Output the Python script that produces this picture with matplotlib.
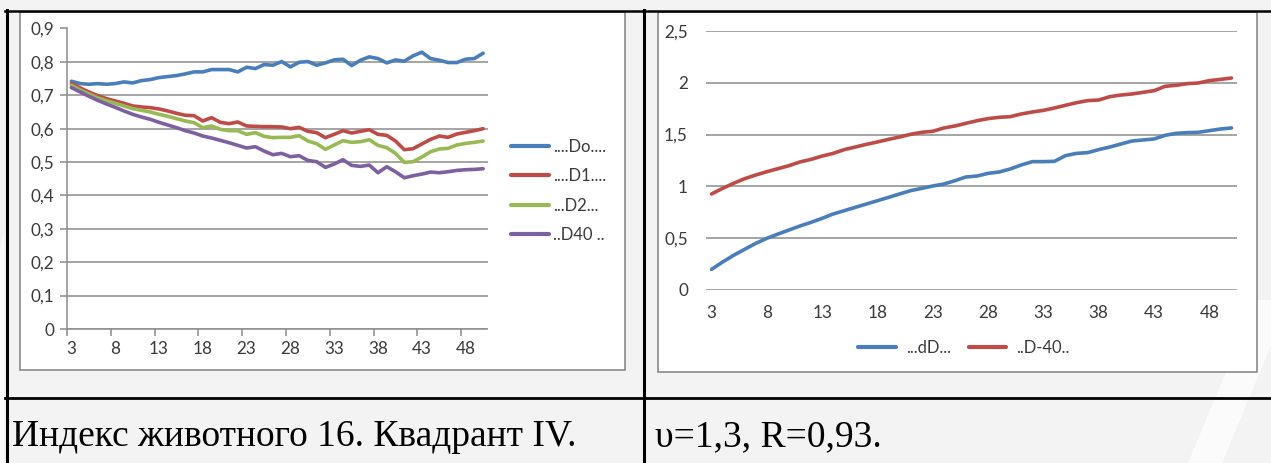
import matplotlib
matplotlib.use('Agg')
import matplotlib.pyplot as plt
from matplotlib.lines import Line2D
from matplotlib.patches import Rectangle, Polygon

W, H = 1271, 463

# ---------------- data ----------------
categories = list(range(3, 51))
xtick_labels = ['3', '8', '13', '18', '23', '28', '33', '38', '43', '48']
left_yticks = [0, 0.1, 0.2, 0.3, 0.4, 0.5, 0.6, 0.7, 0.8, 0.9]
left_ylabels = ['0', '0,1', '0,2', '0,3', '0,4', '0,5', '0,6', '0,7', '0,8', '0,9']
right_yticks = [0, 0.5, 1, 1.5, 2, 2.5]
right_ylabels = ['0', '0,5', '1', '1,5', '2', '2,5']

left_names = ['....Do....', '....D1....', '...D2...', '..D40 ..']
right_names = ['...dD...', '..D-40..']

do_vals = [0.742, 0.735, 0.733, 0.735, 0.733, 0.735, 0.740, 0.737, 0.744, 0.747,
           0.753, 0.756, 0.759, 0.764, 0.770, 0.770, 0.777, 0.777, 0.777, 0.770,
           0.784, 0.780, 0.792, 0.790, 0.801, 0.785, 0.799, 0.801, 0.790, 0.797,
           0.806, 0.808, 0.789, 0.805, 0.815, 0.810, 0.797, 0.806, 0.802, 0.818,
           0.829, 0.810, 0.805, 0.798, 0.798, 0.808, 0.810, 0.826]
d1_vals = [0.735, 0.722, 0.710, 0.699, 0.690, 0.683, 0.676, 0.668, 0.665, 0.663,
           0.659, 0.653, 0.646, 0.640, 0.639, 0.623, 0.633, 0.619, 0.615, 0.620,
           0.608, 0.607, 0.606, 0.606, 0.605, 0.600, 0.604, 0.592, 0.588, 0.573,
           0.583, 0.594, 0.587, 0.592, 0.597, 0.583, 0.580, 0.563, 0.537, 0.540,
           0.554, 0.568, 0.578, 0.574, 0.584, 0.589, 0.594, 0.600]
d2_vals = [0.730, 0.716, 0.704, 0.692, 0.684, 0.676, 0.668, 0.660, 0.655, 0.650,
           0.643, 0.637, 0.630, 0.623, 0.618, 0.603, 0.608, 0.598, 0.594, 0.594,
           0.583, 0.588, 0.577, 0.573, 0.574, 0.574, 0.579, 0.563, 0.555, 0.538,
           0.551, 0.564, 0.559, 0.561, 0.567, 0.550, 0.543, 0.526, 0.499, 0.501,
           0.515, 0.531, 0.539, 0.541, 0.551, 0.556, 0.559, 0.563]
d40_vals = [0.723, 0.710, 0.697, 0.685, 0.674, 0.664, 0.653, 0.643, 0.635, 0.628,
            0.619, 0.611, 0.603, 0.594, 0.587, 0.578, 0.572, 0.565, 0.558, 0.550,
            0.542, 0.546, 0.533, 0.522, 0.526, 0.516, 0.519, 0.505, 0.501, 0.484,
            0.494, 0.507, 0.490, 0.487, 0.491, 0.468, 0.486, 0.471, 0.453, 0.459,
            0.464, 0.470, 0.468, 0.471, 0.475, 0.477, 0.478, 0.480]

dd_vals = [0.199, 0.270, 0.335, 0.393, 0.450, 0.499, 0.540, 0.579, 0.618, 0.653,
           0.692, 0.734, 0.766, 0.798, 0.830, 0.862, 0.894, 0.927, 0.959, 0.981,
           1.004, 1.023, 1.055, 1.091, 1.100, 1.126, 1.139, 1.168, 1.207, 1.239,
           1.239, 1.242, 1.297, 1.319, 1.326, 1.355, 1.380, 1.409, 1.438, 1.448,
           1.458, 1.493, 1.512, 1.519, 1.522, 1.538, 1.554, 1.564]
d_40_vals = [0.927, 0.981, 1.030, 1.075, 1.110, 1.142, 1.171, 1.200, 1.236, 1.261,
             1.293, 1.319, 1.355, 1.380, 1.406, 1.429, 1.454, 1.477, 1.503, 1.522,
             1.532, 1.564, 1.583, 1.609, 1.634, 1.654, 1.667, 1.673, 1.699, 1.718,
             1.734, 1.757, 1.783, 1.808, 1.828, 1.834, 1.866, 1.882, 1.892, 1.908,
             1.924, 1.966, 1.976, 1.992, 1.998, 2.021, 2.033, 2.046]

caption_left = 'Индекс животного 16. Квадрант IV.'
caption_right = 'υ=1,3, R=0,93.'

# ---------------- styles ----------------
BLUE, RED, GREEN, PURPLE = '#4A7EBB', '#BE4B48', '#98B954', '#7D60A0'
GRID = '#8C8C8C'
TXT = '#3A3A3A'
CHART_FONT = ['Lato', 'DejaVu Sans']
FS = 12.3
LW = 2.6

fig = plt.figure(figsize=(W / 100, H / 100), dpi=100)
fig.patch.set_facecolor('#f3f3f3')


def fx(px):
    return px / W


def fy(py):
    return 1 - py / H


# faint watermark stripes (background decoration)
fig.add_artist(Polygon([(fx(1188), fy(463)), (fx(1222), fy(463)),
                        (fx(1290), fy(300)), (fx(1256), fy(300))],
                       closed=True, transform=fig.transFigure, facecolor='white',
                       edgecolor='none', alpha=0.7, zorder=-1))
fig.add_artist(Polygon([(fx(0), fy(463)), (fx(4), fy(463)),
                        (fx(4), fy(230)), (fx(0), fy(250))],
                       closed=True, transform=fig.transFigure, facecolor='white',
                       edgecolor='none', alpha=0.6, zorder=-1))

# chart frames (white boxes)
for (x0, y0, x1, y1) in [(20, 12, 625, 370), (658, 12, 1257, 372)]:
    fig.add_artist(Rectangle((fx(x0), fy(y1)), fx(x1) - fx(x0), fy(y0) - fy(y1),
                             transform=fig.transFigure, facecolor='white',
                             edgecolor='#8a8a8a', lw=1.2, zorder=0))


# table lines
def hline(y, x0, x1, lw):
    fig.add_artist(Line2D([fx(x0), fx(x1)], [fy(y), fy(y)], transform=fig.transFigure,
                          color='black', lw=lw, zorder=5))


def vline(x, y0, y1, lw):
    fig.add_artist(Line2D([fx(x), fx(x)], [fy(y0), fy(y1)], transform=fig.transFigure,
                          color='black', lw=lw, zorder=5))


hline(11, 5, W, 1.8)
hline(398, 5, W, 2.0)
vline(6.5, 10, H, 2.2)
vline(644, 10, H, 2.2)

# ---------------- left chart ----------------
ax1 = fig.add_axes([fx(67), fy(329), fx(487.5) - fx(67), fy(28.5) - fy(329)])
ax1.set_facecolor('none')
ax1.set_xlim(2.5, 50.5)
ax1.set_ylim(0, 0.9)
for vals, col, name in zip([do_vals, d1_vals, d2_vals, d40_vals],
                           [BLUE, RED, GREEN, PURPLE], left_names):
    ax1.plot(categories, vals, color=col, lw=LW, label=name,
             solid_joinstyle='round', solid_capstyle='round', zorder=3)
ax1.set_yticks(left_yticks)
ax1.set_yticklabels(left_ylabels)
ax1.set_xticks(categories[::5])
ax1.set_xticklabels(xtick_labels)
ax1.set_xticks([c - 0.5 for c in categories[::5]], minor=True)
ax1.tick_params(axis='x', which='major', length=0, pad=9, labelsize=FS, labelcolor=TXT)
ax1.tick_params(axis='x', which='minor', length=5, width=1.1, color=GRID, direction='out')
ax1.tick_params(axis='y', length=5, width=1.1, color=GRID, pad=4, labelsize=FS, labelcolor=TXT)
ax1.yaxis.grid(True, color=GRID, lw=1.1, zorder=1)
ax1.set_axisbelow(True)
for s in ['top', 'right']:
    ax1.spines[s].set_visible(False)
for s in ['left', 'bottom']:
    ax1.spines[s].set_color(GRID)
    ax1.spines[s].set_linewidth(1.1)
for lab in ax1.get_xticklabels() + ax1.get_yticklabels():
    lab.set_family(CHART_FONT)

leg1 = ax1.legend(loc='center left', bbox_to_anchor=(fx(511), fy(191)),
                  bbox_transform=fig.transFigure, frameon=False, borderpad=0,
                  borderaxespad=0, handlelength=2.25, handletextpad=0.25,
                  labelspacing=0.8, prop={'family': CHART_FONT, 'size': 12})
for t in leg1.get_texts():
    t.set_color(TXT)
for h in leg1.get_lines():
    h.set_linewidth(3.0)

# ---------------- right chart ----------------
ax2 = fig.add_axes([fx(706), fy(290), fx(1237) - fx(706), fy(31) - fy(290)])
ax2.set_facecolor('none')
ax2.set_xlim(2.5, 50.5)
ax2.set_ylim(0, 2.5)
for vals, col, name in zip([dd_vals, d_40_vals], [BLUE, RED], right_names):
    ax2.plot(categories, vals, color=col, lw=LW, label=name,
             solid_joinstyle='round', solid_capstyle='round', zorder=3)
ax2.set_yticks(right_yticks)
ax2.set_yticklabels(right_ylabels)
ax2.set_xticks(categories[::5])
ax2.set_xticklabels(xtick_labels)
ax2.tick_params(axis='x', length=0, pad=11, labelsize=FS, labelcolor=TXT)
ax2.tick_params(axis='y', length=0, pad=13, labelsize=FS, labelcolor=TXT)
ax2.yaxis.grid(True, color=GRID, lw=1.1, zorder=1)
ax2.set_axisbelow(True)
for s in ax2.spines.values():
    s.set_visible(False)
for lab in ax2.get_xticklabels() + ax2.get_yticklabels():
    lab.set_family(CHART_FONT)

leg2 = ax2.legend(loc='center', bbox_to_anchor=(fx(964), fy(348)),
                  bbox_transform=fig.transFigure, frameon=False, ncol=2, borderpad=0,
                  borderaxespad=0, handlelength=2.25, handletextpad=0.6,
                  columnspacing=1.1, prop={'family': CHART_FONT, 'size': 12})
for t in leg2.get_texts():
    t.set_color(TXT)
for h in leg2.get_lines():
    h.set_linewidth(3.0)

# ---------------- captions ----------------
fig.text(fx(12), fy(446), caption_left, family=['Liberation Serif', 'DejaVu Serif'],
         fontsize=27, color='black', va='baseline', ha='left')
fig.text(fx(655), fy(446), caption_right, family=['Liberation Serif', 'DejaVu Serif'],
         fontsize=27, color='black', va='baseline', ha='left')

fig.savefig('out.png', dpi=100, facecolor=fig.get_facecolor())
